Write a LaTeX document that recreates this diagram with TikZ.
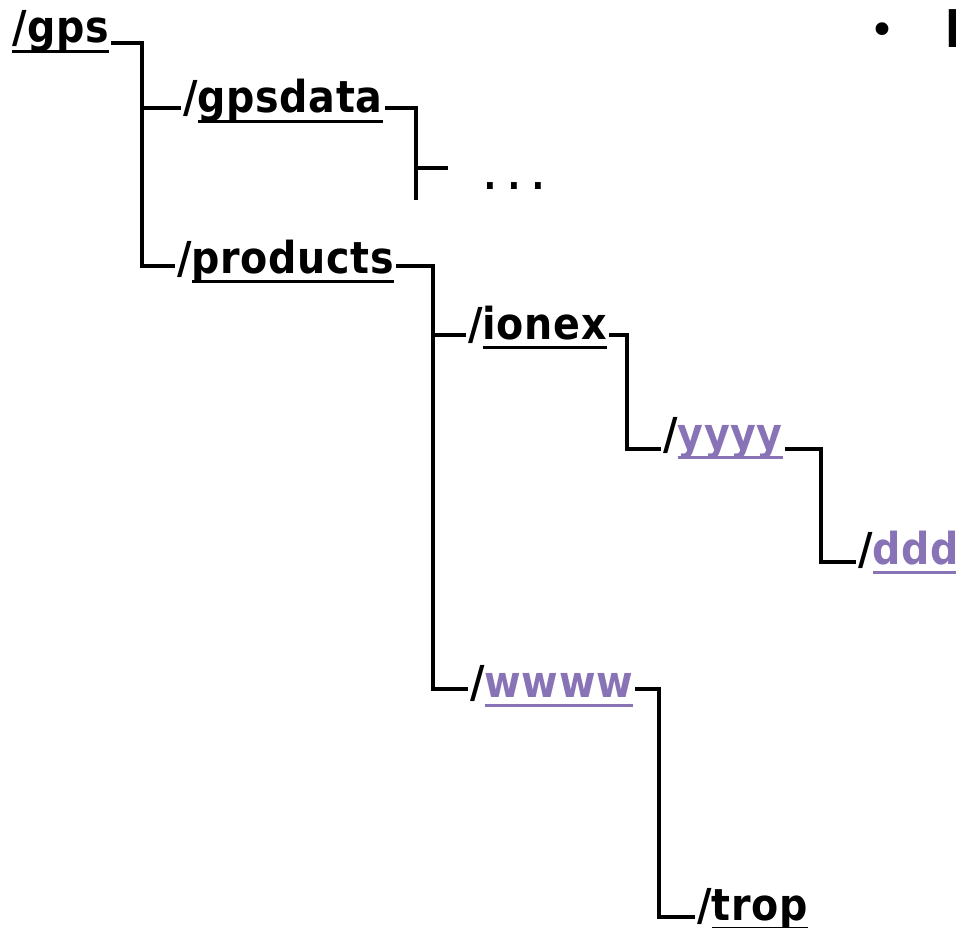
\documentclass[tikz,border=0pt]{standalone}
\usepackage{fontspec}
\setmainfont{DejaVu Sans}
\newfontfamily\lblfont{DejaVu Sans Condensed}[LetterSpace=1.5]
\definecolor{lilac}{RGB}{137,115,183}
\newcommand{\ulw}[1]{\setbox0\hbox{#1}\rlap{\rule[-10pt]{\wd0}{2.6pt}}\box0}
\tikzset{
  lbl/.style={anchor=base west, inner xsep=2pt, inner ysep=0pt, text depth=12pt,
    font=\fontsize{44}{50}\lblfont\bfseries},
  conn/.style={line width=4.2pt, line join=miter, draw=black},
}
\begin{document}
\begin{tikzpicture}[x=1pt,y=-1pt]
\useasboundingbox (0,0) rectangle (956,928);
\begin{scope}
\clip (0,0) rectangle (956,928);
% labels
\node[lbl, text height=12pt] (gps) at (10,43) {\ulw{/gps}};
\node[lbl, text height=22pt] (gpsdata) at (181,113) {/\ulw{gpsdata}};
\node[lbl, text height=26pt] (products) at (175,273) {/\ulw{products}};
\node[anchor=base west, inner sep=0pt, font=\fontsize{56}{60}\selectfont] (dots) at (481,190) {.\kern6.2pt.\kern6.2pt.};
\node[lbl, text height=20pt] (ionex) at (466,339) {/\ulw{ionex}};
\node[lbl, text height=12pt] (yyyy) at (661,449) {/{\color{lilac}\ulw{yyyy}}};
\node[lbl, text height=16pt] (ddd) at (856,564) {/{\color{lilac}\ulw{ddd}}};
\node[lbl, text height=28pt] (wwww) at (468,697) {/{\color{lilac}\ulw{wwww}}};
\node[lbl, text height=18pt] (trop) at (695,920) {/\ulw{trop}};
\node[anchor=base west, inner sep=0pt, font=\fontsize{44}{50}\selectfont] (bullet) at (869,46) {•};
\node[anchor=base west, inner sep=0pt, font=\fontsize{52}{56}\selectfont\bfseries] (head) at (944,48) {N};
% trunk helpers
\coordinate (t1) at (142,150);
\coordinate (t2) at (416,200);
\coordinate (b2) at (448,168);
\coordinate (t3) at (433,500);
\coordinate (t4) at (627,400);
\coordinate (t5) at (821,500);
\coordinate (t6) at (659,800);
% connectors
\draw[conn] (gps.east) -| (t1) |- (products.west);
\draw[conn] (t1 |- gpsdata.west) -- (gpsdata.west);
\draw[conn] (gpsdata.east) -| (t2);
\draw[conn] (t2 |- b2) -- (b2);
\draw[conn] (products.east) -| (t3) |- (wwww.west);
\draw[conn] (t3 |- ionex.west) -- (ionex.west);
\draw[conn] (ionex.east) -| (t4) |- (yyyy.west);
\draw[conn] (yyyy.east) -| (t5) |- (ddd.west);
\draw[conn] (wwww.east) -| (t6) |- (trop.west);
\end{scope}
\end{tikzpicture}
\end{document}
